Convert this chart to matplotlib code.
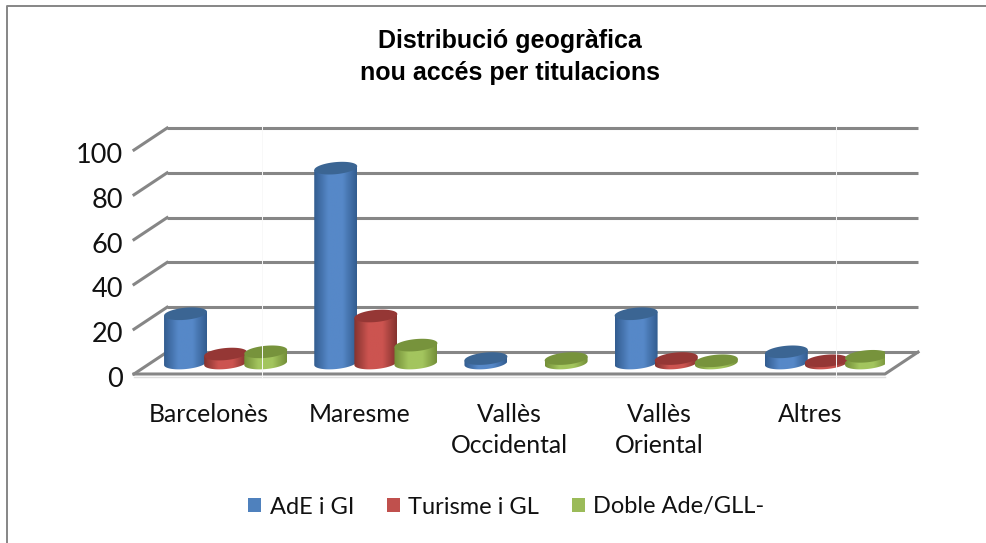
import numpy as np
import matplotlib
matplotlib.use("Agg")
import matplotlib.pyplot as plt
from matplotlib.colors import LinearSegmentedColormap
from matplotlib.lines import Line2D
from matplotlib.patches import Patch, Polygon
from matplotlib.transforms import ScaledTranslation

categories = ["Barcelonès", "Maresme", "Vallès\nOccidental", "Vallès\nOriental", "Altres"]
series_names = ["AdE i GI", "Turisme i GL", "Doble Ade/GLL-"]
ade_gi = [22, 87, 2, 22, 5]
turisme_gl = [4, 21, 0, 2, 1]
doble_ade = [5, 8, 2, 1, 3]
y_ticks = [0, 20, 40, 60, 80, 100]

series_values = [ade_gi, turisme_gl, doble_ade]
legend_colors = ["#4f81bd", "#c0504d", "#9bbb59"]
edge_colors = ["#335d90", "#85332f", "#748f38"]
mid_colors = ["#5688c8", "#cc5450", "#a3c55e"]
top_colors = ["#3b6593", "#953735", "#77933c"]

grid_color = "#868686"
depth_x = 0.22
depth_y = 9.8
group_step = 0.267
half_width = 0.143
half_height = 2.7
tilt = 6.0


def cylinder(ax, cx, base, value, j):
    t = np.linspace(0, 2 * np.pi, 80)
    ex = half_width * np.cos(t)
    ey = half_height * np.sin(t) + tilt * half_width * np.cos(t)

    # body = lower half of base ellipse + upper part up to the top ellipse
    lower = (t >= np.pi) & (t <= 2 * np.pi)
    top_y = base + value
    body_x = np.r_[cx + ex[lower], cx + half_width, cx - half_width]
    body_y = np.r_[base + ey[lower], top_y + tilt * half_width, top_y - tilt * half_width]

    cmap = LinearSegmentedColormap.from_list(
        "cyl", [edge_colors[j], mid_colors[j], mid_colors[j], edge_colors[j]]
    )
    grad = np.linspace(0, 1, 64).reshape(1, -1)
    im = ax.imshow(
        grad,
        cmap=cmap,
        aspect="auto",
        interpolation="bilinear",
        extent=(cx - half_width, cx + half_width, base - half_height * 2, top_y + half_height * 2),
        zorder=3,
    )
    clip = Polygon(np.c_[body_x, body_y], closed=True, transform=ax.transData)
    im.set_clip_path(clip)
    ax.fill(cx + ex, top_y + ey, color=top_colors[j], lw=0, zorder=4)


fig = plt.figure(figsize=(9.86, 5.43), dpi=100)
plt.rcParams["font.family"] = ["Lato", "DejaVu Sans"]

ax = fig.add_axes([134 / 986, 1 - 374 / 543, 751 / 986, 224 / 543])
ax.set_facecolor("none")

for v in y_ticks:
    ax.plot([depth_x, 5 + depth_x], [v + depth_y] * 2, color=grid_color, lw=2.2,
            clip_on=False, zorder=1, solid_capstyle="butt")
    ax.plot([0, depth_x], [v, v + depth_y], color=grid_color, lw=2.2,
            clip_on=False, zorder=1)
ax.plot([0, 5, 5 + depth_x], [0, 0, depth_y], color=grid_color, lw=2.2,
        clip_on=False, zorder=1)
ax.plot([0, 5], [-1.2, -1.2], color="#dedede", lw=1.0, clip_on=False, zorder=0)

for i in range(len(categories)):
    for j, values in enumerate(series_values):
        if values[i] <= 0:
            continue
        cx = i + 0.5 + depth_x / 2 + (j - 1) * group_step
        cylinder(ax, cx, depth_y / 2, values[i], j)

ax.set_xlim(0, 5)
ax.set_ylim(0, 100)
ax.set_xticks(np.arange(5) + 0.5)
ax.set_xticklabels(categories, fontsize=17.8, color="#111111", linespacing=1.42)
ax.set_yticks(y_ticks)
ax.set_yticklabels([str(v) for v in y_ticks], fontsize=19.5, color="#111111")
ax.tick_params(axis="x", length=0, pad=21)
ax.tick_params(axis="y", length=0, pad=8)
down = ScaledTranslation(0, -3 / 100, fig.dpi_scale_trans)
for lab in ax.get_yticklabels():
    lab.set_transform(lab.get_transform() + down)
for s in ax.spines.values():
    s.set_visible(False)

fig.text(510 / 986, 1 - 57 / 543, "Distribució geogràfica\nnou accés per titulacions",
         ha="center", va="center", fontsize=18, fontweight="bold",
         family="Liberation Sans", linespacing=1.42, color="black")

handles = [Patch(facecolor=c, edgecolor="none", label=n) for c, n in zip(legend_colors, series_names)]
fig.legend(handles=handles, loc="center", bbox_to_anchor=(506.5 / 986, 1 - 507 / 543),
           ncol=3, frameon=False, fontsize=17, handlelength=0.55, handleheight=0.55,
           handletextpad=0.35, columnspacing=1.4, labelcolor="#111111")

# chart frame, only left and top sit inside the crop
fig.add_artist(Line2D([7 / 986, 7 / 986, 1], [0, 1 - 5.8 / 543, 1 - 5.8 / 543],
                      color=grid_color, lw=1.4))

# faint page seams crossing the plot
for x_px in [261.7, 835.7]:
    fig.add_artist(Line2D([x_px / 986] * 2, [1 - 378 / 543, 1 - 126 / 543],
                          color="#f8f8f8", lw=0.7))

fig.savefig("out.png", dpi=100)
